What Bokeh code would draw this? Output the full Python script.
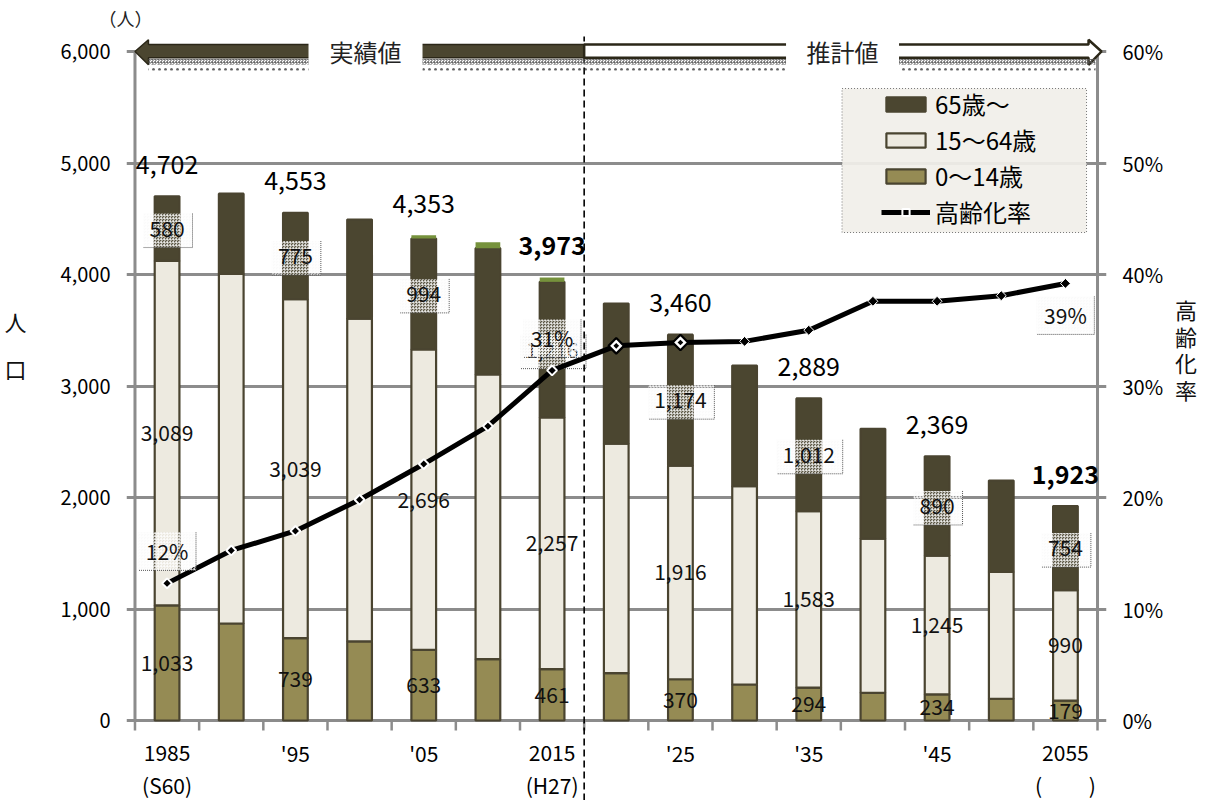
from bokeh.plotting import figure
from bokeh.models import (ColumnDataSource, Range1d, LinearAxis, FixedTicker,
                          NumeralTickFormatter, PrintfTickFormatter,
                          Legend, LegendItem)
from bokeh.core.properties import value
from bokeh.embed import file_html
from bokeh.resources import INLINE

FONT = "Noto Sans CJK JP"

# ---------------- data ----------------
years = [1985, 1990, 1995, 2000, 2005, 2010, 2015, 2020, 2025, 2030, 2035, 2040, 2045, 2050, 2055]
tick_main = ["1985", "", "'95", "", "'05", "", "2015", "", "'25", "", "'35", "", "'45", "", "2055"]
tick_sub = ["(S60)", "", "", "", "", "", "(H27)", "", "", "", "", "", "", "", "(\u3000\u3000 )"]
pop_0_14 = [1033, 870, 739, 709, 633, 550, 461, 424, 370, 323, 294, 248, 234, 195, 179]
pop_15_64 = [3089, 3135, 3039, 2895, 2696, 2553, 2257, 2059, 1916, 1778, 1583, 1384, 1245, 1137, 990]
pop_65 = [580, 720, 775, 889, 994, 1133, 1216, 1257, 1174, 1083, 1012, 984, 890, 820, 754]
pop_unknown = [0, 0, 0, 0, 30, 54, 39, 0, 0, 0, 0, 0, 0, 0, 0]
aging_rate = [12.3, 15.25, 17.0, 19.8, 23.0, 26.4, 31.4, 33.6, 33.9, 34.0, 35.0, 37.6, 37.6, 38.1, 39.2]
labeled_years = [1985, 1995, 2005, 2015, 2025, 2035, 2045, 2055]
bold_total_years = [2015, 2055]
rate_label_years = [1985, 2015, 2055]
left_ticks = [0, 1000, 2000, 3000, 4000, 5000, 6000]
right_ticks = [0, 10, 20, 30, 40, 50, 60]
series_names = ["65歳～", "15～64歳", "0～14歳", "高齢化率"]
left_unit = "（人）"
left_title = "人口"
right_title = "高齢化率"
actual_label = "実績値"
projected_label = "推計値"
first_projected_year = 2020

# ---------------- geometry helpers ----------------
PX_PER_CAT = 64.3
PX_PER_PERSON = 669 / 6000.0


def dx(px):
    return px / PX_PER_CAT


def dy(px):
    return px / PX_PER_PERSON


n = len(years)
xs = list(range(n))
totals = [a + b + c + d for a, b, c, d in zip(pop_0_14, pop_15_64, pop_65, pop_unknown)]
split_x = years.index(first_projected_year) - 0.5
top_val = left_ticks[-1]

C_OLD = "#4b4630"
C_WORK = "#edeae0"
C_YOUNG = "#958b54"
C_UNK = "#76923c"
EDGE = "#4a4430"
GRID = "#8c8c8c"

x_range = Range1d(-0.5 - dx(8.5), n - 0.5 + dx(9))
y_range = Range1d(-dy(80), dy(690))

p = figure(width=1200, height=800, x_range=x_range, y_range=y_range,
           output_backend="svg", toolbar_location=None, x_axis_location=None,
           min_border_left=126, min_border_right=92, min_border_top=30, min_border_bottom=0)
p.outline_line_color = None
p.background_fill_color = "white"
p.title.text = left_unit
p.title.align = "left"
p.title.offset = -28
p.title.standoff = 0
p.title.text_font = FONT
p.title.text_font_size = "18px"
p.title.text_font_style = "normal"
p.title.text_color = "#222222"

p.ygrid.ticker = FixedTicker(ticks=left_ticks)
p.ygrid.grid_line_color = GRID
p.ygrid.grid_line_width = 3
p.xgrid.visible = False

p.yaxis.ticker = FixedTicker(ticks=left_ticks)
p.yaxis.formatter = NumeralTickFormatter(format="0,0")
p.yaxis.axis_label = "\n".join(left_title) + "\n" * 3
p.yaxis.axis_label_standoff = 31

p.extra_y_ranges = {"pct": Range1d(y_range.start / 100.0, y_range.end / 100.0)}
rax = LinearAxis(y_range_name="pct", ticker=FixedTicker(ticks=right_ticks),
                 formatter=PrintfTickFormatter(format="%d%%"))
rax.axis_label = "\n".join(right_title) + "\n" * 5
rax.axis_label_standoff = 9
p.add_layout(rax, "right")

for ax in p.yaxis:
    ax.axis_line_color = None
    ax.major_tick_line_color = None
    ax.minor_tick_line_color = None
    ax.major_tick_out = 0
    ax.major_tick_in = 0
    ax.major_label_standoff = 16
    ax.major_label_text_font = FONT
    ax.major_label_text_font_size = "20px"
    ax.major_label_text_color = "#000000"
    ax.axis_label_orientation = "horizontal"
    ax.axis_label_text_font = FONT
    ax.axis_label_text_font_size = "22px"
    ax.axis_label_text_font_style = "normal"
    ax.axis_label_text_color = "#111111"
p.yaxis[0].axis_label_text_line_height = 1.47
rax.axis_label_text_line_height = 0.83

# axis lines
p.segment(x0=[-0.5, n - 0.5], y0=[0, 0], x1=[-0.5, n - 0.5], y1=[top_val, top_val],
          line_color=GRID, line_width=3)
# x tick marks on category boundaries
bx = [i - 0.5 for i in range(n + 1)]
p.segment(x0=bx, y0=[0] * len(bx), x1=bx, y1=[-dy(10)] * len(bx), line_color=GRID, line_width=2.5)

# ---------------- stacked bars ----------------
src = ColumnDataSource(dict(x=xs, a0=pop_0_14, a1=pop_15_64, a2=pop_65, a3=pop_unknown))
bars = p.vbar_stack(["a0", "a1", "a2", "a3"], x="x", width=0.385, source=src,
                    fill_color=[C_YOUNG, C_WORK, C_OLD, C_UNK],
                    line_color=[EDGE, EDGE, EDGE, None], line_width=2.2)

# ---------------- segment labels ----------------
lab_x, lab_y, lab_t = [], [], []
box_x, box_y, box_w = [], [], []
for i, yr in enumerate(years):
    if yr not in labeled_years:
        continue
    base = 0
    for vals in (pop_0_14, pop_15_64, pop_65):
        v = vals[i]
        lab_x.append(i)
        lab_y.append(base + v / 2.0)
        lab_t.append(f"{v:,}")
        base += v
    box_x.append(i + dx(1))
    box_y.append(pop_0_14[i] + pop_15_64[i] + pop_65[i] / 2.0 - dy(2))
    box_w.append(49 if pop_65[i] < 1000 else 66)

rl_x, rl_y, rl_t = [], [], []
for yr in rate_label_years:
    i = years.index(yr)
    off = dy(32) if i < n - 1 else -dy(32)
    rl_x.append(i)
    rl_y.append(aging_rate[i] * 100 + off)
    rl_t.append(f"{round(aging_rate[i])}%")


def hatch_boxes(bxs, bys, bws, h):
    s = ColumnDataSource(dict(x=bxs, y=bys, w=bws))
    p.rect(x="x", y="y", width="w", height=h, width_units="screen", height_units="screen",
           source=s, fill_color="#d8d8d8", fill_alpha=0.12, line_color=None,
           hatch_pattern="criss_cross", hatch_color="white", hatch_scale=3,
           hatch_weight=1, hatch_alpha=0.5)
    mx, my = [], []
    for x, y, w in zip(bxs, bys, bws):
        xr = x + dx(w / 2.0)
        xl = x - dx(w / 2.0)
        yb = y - dy(h / 2.0)
        yt = y + dy(h / 2.0)
        mx.append([xr, xr, xl])
        my.append([yt, yb, yb])
    p.multi_line(mx, my, line_color="#555555", line_width=1, line_dash="1 1")


hatch_boxes(box_x, box_y, box_w, 34)
p.text(x=lab_x, y=lab_y, text=lab_t, text_font=value(FONT), text_font_size="21px",
       text_align="center", text_baseline="middle", text_color="#111111")

for bold in (False, True):
    tx, ty, tt = [], [], []
    for i, yr in enumerate(years):
        if yr in labeled_years and ((yr in bold_total_years) == bold):
            tx.append(i)
            ty.append(totals[i] + dy(32))
            tt.append(f"{totals[i]:,}")
    p.text(x=tx, y=ty, text=tt, text_font=value(FONT), text_font_size="25px",
           text_font_style="bold" if bold else "normal",
           text_align="center", text_baseline="middle", text_color="#000000")

# ---------------- aging rate line ----------------
line_r = p.line(xs, aging_rate, y_range_name="pct", line_color="black", line_width=5)
k = years.index(first_projected_year)
m1 = p.scatter(xs[:k], aging_rate[:k], y_range_name="pct", marker="square", angle=0.785398,
               size=7, fill_color="black", line_color="white", line_width=2)
p.scatter(xs[k:k + 2], aging_rate[k:k + 2], y_range_name="pct", marker="square", angle=0.785398,
          size=11, fill_color="white", line_color="black", line_width=2.2)
p.scatter(xs[k:k + 2], aging_rate[k:k + 2], y_range_name="pct", marker="square", angle=0.785398,
          size=4, fill_color="black", line_color=None)
p.scatter(xs[k + 2:], aging_rate[k + 2:], y_range_name="pct", marker="square", angle=0.785398,
          size=7, fill_color="black", line_color="white", line_width=1)

hatch_boxes(rl_x, rl_y, [58] * len(rl_x), 38)
p.text(x=rl_x, y=rl_y, text=rl_t, text_font=value(FONT), text_font_size="21px",
       text_align="center", text_baseline="middle", text_color="#111111")

# ---------------- x labels ----------------
mx_ = [i for i, t in enumerate(tick_main) if t]
p.text(x=mx_, y=[-dy(32)] * len(mx_), text=[tick_main[i] for i in mx_], text_font=value(FONT),
       text_font_size="21px", text_align="center", text_baseline="middle", text_color="#000000")
sx_ = [i for i, t in enumerate(tick_sub) if t]
p.text(x=sx_, y=[-dy(64)] * len(sx_), text=[tick_sub[i] for i in sx_], text_font=value(FONT),
       text_font_size="21px", text_align="center", text_baseline="middle", text_color="#000000")

p.segment(x0=[split_x], y0=[y_range.start], x1=[split_x], y1=[top_val + dy(15)],
          line_color="black", line_width=1.6, line_dash="7 4")

# ---------------- arrows ----------------
hb = -0.5 + dx(13.5)
p.patch([-0.5, hb, hb, split_x, split_x, hb, hb],
        [top_val, top_val + dy(11.7), top_val + dy(7), top_val + dy(7),
         top_val - dy(6.3), top_val - dy(6.3), top_val - dy(13.3)],
        fill_color=C_OLD, line_color="#2b2718", line_width=1.5)
rt = n - 0.5 + dx(4)
rb = n - 0.5 - dx(9)
p.patch([split_x, rb, rb, rt, rb, rb, split_x],
        [top_val + dy(7), top_val + dy(7), top_val + dy(11.7), top_val,
         top_val - dy(13.3), top_val - dy(6.3), top_val - dy(6.3)],
        fill_color="white", line_color="#2b2718", line_width=2.5)
p.quad(left=[hb], right=[n - 0.5 - dx(2)], top=[top_val - dy(7.5)], bottom=[top_val - dy(13)],
       fill_alpha=0, line_color=None, hatch_pattern="criss_cross", hatch_color="#555555",
       hatch_scale=3, hatch_weight=1, hatch_alpha=0.55)
p.quad(left=[hb], right=[n - 0.5 - dx(2)], top=[top_val - dy(13)], bottom=[top_val - dy(19)],
       fill_alpha=0, line_color=None, hatch_pattern="dot", hatch_color="#222222",
       hatch_scale=6, hatch_weight=1.5, hatch_alpha=0.7)
ac = -0.5 + dx(365.5 - 134.5)
pc = -0.5 + dx(843.5 - 134.5)
p.rect(x=[ac, pc], y=[top_val, top_val], width=[114, 113], height=[40, 40],
       width_units="screen", height_units="screen", fill_color="white", line_color=None)
p.text(x=[ac, pc], y=[top_val, top_val], text=[actual_label, projected_label],
       text_font=value(FONT), text_font_size="24px", text_align="center",
       text_baseline="middle", text_color="#222222")

# ---------------- legend ----------------
p.quad(left=[-0.5 + dx(843 - 134.5)], right=[-0.5 + dx(1088 - 134.5)],
       top=[dy(720 - 88)], bottom=[dy(720 - 232)],
       fill_color="#f1efe9", fill_alpha=0.93, line_color="#777777", line_width=1, line_dash="1 2")
legend = Legend(items=[
    LegendItem(label=series_names[0], renderers=[bars[2]]),
    LegendItem(label=series_names[1], renderers=[bars[1]]),
    LegendItem(label=series_names[2], renderers=[bars[0]]),
    LegendItem(label=series_names[3], renderers=[line_r, m1]),
], location=(755, 571), glyph_width=49, glyph_height=18, label_height=18, spacing=1,
    padding=6, label_standoff=5, background_fill_alpha=0, border_line_color=None,
    label_text_font=FONT, label_text_font_size="24px", label_text_color="#000000",
    margin=0)
p.add_layout(legend)

open("out.html", "w").write(file_html(p, INLINE))
